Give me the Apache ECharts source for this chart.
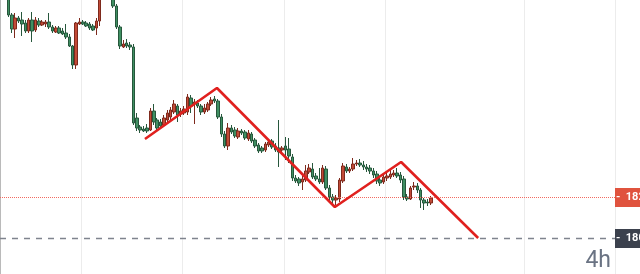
<!DOCTYPE html>
<html>
<head>
<meta charset="utf-8">
<style>
html,body{margin:0;padding:0;background:#ffffff;}
#chart{width:640px;height:274px;}
</style>
<script src="https://cdn.jsdelivr.net/npm/echarts@6/dist/echarts.min.js"></script>
</head>
<body>
<div id="chart"></div>
<script>
// ---- data (4h candles) ----
var openPrices = [1938,1934,1929.5,1920.5,1913.5,1919,1918,1916.5,1912.5,1918,
1913,1917.5,1915.5,1916,1917,1914.5,1912,1914,1912.5,1911.5,
1909.5,1905,1895.5,1916,1917,1916.5,1916,1915,1914,1917.5,
1929,1935,1932,1933,1925,1914.5,1904.5,1906.5,1905.5,1904.5,
1869,1864.5,1863.5,1864,1863,1872.5,1868,1867,1865.5,1868,
1869.5,1872,1875,1871,1871.5,1872,1879,1876,1876.5,1875,
1872,1873,1876,1878.5,1877.5,1869.5,1861,1855,1864,1863,
1859.5,1862.5,1862,1858.5,1861,1858,1855.5,1854,1853,1855.5,
1857.5,1855,1854,1853,1855,1853.5,1849.5,1839,1838.5,1837,
1838,1842,1843.5,1840,1838.5,1837,1843.5,1834,1829.5,1828,
1828.5,1837.5,1844.5,1842.5,1843.5,1846,1846.5,1845.5,1844.5,1844,
1842.5,1841,1838,1837,1839,1839.5,1840.5,1841.5,1840.5,1838.5,
1829.5,1828.5,1834.5,1835,1833,1828,1827,1826.5];
var closePrices = [1934,1930,1920.5,1913.5,1919,1917.5,1916,1912.5,1918,1912.5,
1918,1915.5,1917,1917,1914.5,1912.5,1914,1911.5,1911,1909.5,
1905,1895.5,1916.5,1917,1916,1915,1914,1913,1917.5,1929,
1935,1932,1937,1925,1914.5,1905,1906,1905,1904.5,1866.5,
1864,1863,1862.5,1862.5,1872.5,1867,1864,1865,1869,1871.5,
1873,1876,1870.5,1872.5,1873.5,1879.5,1875,1877,1875,1872,
1874,1876,1878,1877.5,1869.5,1861,1855,1864,1862,1860,
1862.5,1861.5,1859,1861.5,1857.5,1855,1852.5,1852.5,1856,1857,
1854.5,1853,1852,1854,1853,1850,1839,1837.5,1836.5,1838.5,
1842.5,1844,1839.5,1838.5,1837,1844,1834,1829.5,1828,1829,
1838,1845,1842.5,1843.5,1846,1846.5,1845.5,1844.5,1843.5,1842.5,
1840.5,1837.5,1836.5,1839.5,1840,1841,1841.5,1840,1838,1829.5,
1828.5,1834,1835,1833,1828,1826.5,1826.5,1829];
var lowPrices = [1932,1928.5,1919.5,1911.5,1909,1916.5,1910,1911.5,1911.5,1907,
1912,1914.5,1915,1914.5,1913.5,1911.5,1911.5,1911,1910.5,1908.5,
1904.5,1893.5,1893.5,1915.5,1915.5,1914.5,1913,1912.5,1910.5,1915,
1928.5,1930,1930.5,1924,1913.5,1903.5,1904,1904,1903,1865.5,
1862.5,1861.5,1862,1861.5,1862.5,1865.5,1863,1864,1864.5,1867,
1868,1871,1867,1869.5,1870.5,1870.5,1871.5,1866,1874,1870.5,
1871,1872,1875,1876.5,1868.5,1859.5,1854,1853,1861,1859,
1858.5,1860.5,1858,1857.5,1856.5,1854,1851.5,1851.5,1852,1854.5,
1853.5,1852,1844.5,1851,1848,1846.5,1837.5,1836.5,1835,1833,
1837,1841,1838.5,1837.5,1836,1836,1833,1828,1826,1825.5,
1827,1836.5,1841.5,1841.5,1842.5,1845,1844.5,1843,1842,1841,
1839,1836,1835,1836,1837.5,1838.5,1839.5,1839,1836.5,1828,
1827.5,1828,1833,1831.5,1824,1823,1825,1825.5];
var highPrices = [1940.5,1936,1931,1921.5,1921.5,1920,1922,1918,1919,1922,
1919.5,1919,1918,1918,1921.5,1915.5,1915,1915,1914,1916,
1911,1905.5,1917,1919,1918,1917.5,1917,1916,1919,1931,
1937,1938,1939,1935,1926,1915.5,1908,1908.5,1907,1906,
1871.5,1865.5,1865,1866,1874,1876,1869,1868.5,1870.5,1873,
1874.5,1878,1876,1874,1875,1881,1880.5,1878.5,1878,1876,
1876,1877,1879.5,1880,1878.5,1871,1862.5,1866.5,1865.5,1864.5,
1864,1863.5,1863,1863,1862,1859,1856.5,1855,1857,1858,
1858.5,1856.5,1868,1855,1859.5,1859,1851,1840.5,1839.5,1840,
1845.5,1846,1846.5,1841.5,1844,1845.5,1845,1835.5,1831,1830.5,
1839,1846.5,1846,1844.5,1849,1848,1848.5,1847.5,1846,1845.5,
1844,1842.5,1839.5,1841.5,1842,1843,1843,1844,1842,1840,
1831,1835,1837,1836.5,1834,1829,1828.5,1830];

var slotCount = 182;               // candle slots across the plot (incl. empty future area)
var gridSlots = [24, 54, 84, 114, 155]; // slots where vertical grid lines fall

var zigzagX = [42.9, 64.2, 99.1, 118.7, 141.5];
var zigzagY = [1858.5, 1884, 1824.5, 1847, 1809];

var currentPrice = 1829.25;
var targetPrice = 1808.75;
var priceMin = 1791, priceMax = 1928;
var timeframeLabel = '4h';

// ---- build ----
var categories = [];
for (var i = 0; i < slotCount; i++) categories.push(String(i));
var candles = openPrices.map(function (o, k) {
  return [o, closePrices[k], lowPrices[k], highPrices[k]];
});
var zigzag = zigzagX.map(function (x, k) { return [x, zigzagY[k]]; });

function priceLineSeries(value, lineColor, lineType, lineWidth, bg) {
  return {
    type: 'line', xAxisIndex: 1, symbol: 'none', z: 3, silent: true,
    data: [[0, value], [slotCount, value]],
    color: lineColor,
    lineStyle: {color: lineColor, width: lineWidth, type: lineType},
    endLabel: {
      show: true, distance: 0,
      formatter: '-  ' + value.toFixed(1),
      backgroundColor: bg, color: '#ffffff', fontSize: 11, fontWeight: 'bold',
      fontFamily: 'Roboto, Arial, sans-serif', padding: [4, 4, 3, 1], lineHeight: 12
    }
  };
}

var chart = echarts.init(document.getElementById('chart'), null, {renderer: 'canvas'});
chart.setOption({
  animation: false,
  backgroundColor: '#ffffff',
  grid: {left: 0, right: 25, top: 0, bottom: 0, containLabel: false},
  xAxis: [{
    type: 'category', data: categories, boundaryGap: true,
    axisLine: {show: false}, axisTick: {show: false}, axisLabel: {show: false},
    splitLine: {show: true, interval: function (idx) { return gridSlots.indexOf(idx) >= 0; },
      lineStyle: {color: '#ececec', width: 1}}
  }, {
    type: 'value', min: 0, max: slotCount, show: false
  }],
  yAxis: {
    type: 'value', position: 'right', min: priceMin, max: priceMax, scale: true,
    axisLine: {show: true, lineStyle: {color: '#a3a3a3', width: 1.5}},
    axisTick: {show: false}, axisLabel: {show: false}, splitLine: {show: false}
  },
  series: [{
    type: 'candlestick',
    data: candles,
    barWidth: 3,
    clip: true,
    itemStyle: {
      color: '#c24a37', borderColor: '#7e2a1d',
      color0: '#3f8f62', borderColor0: '#27573c', borderWidth: 1
    }
  }, {
    type: 'line', xAxisIndex: 1, data: zigzag, symbol: 'none',
    lineStyle: {color: '#e0201e', width: 2.6}, z: 5
  },
  priceLineSeries(currentPrice, '#f26a60', [1, 1], 1, '#e0533e'),
  priceLineSeries(targetPrice, '#7f848e', [6, 6], 1.3, '#3b414d')
  ],
  graphic: [{
    type: 'text', right: 29, bottom: 1,
    style: {text: timeframeLabel, fill: '#6a7383', fontSize: 23, fontFamily: 'Roboto, Arial, sans-serif'}
  }]
});
</script>
</body>
</html>
